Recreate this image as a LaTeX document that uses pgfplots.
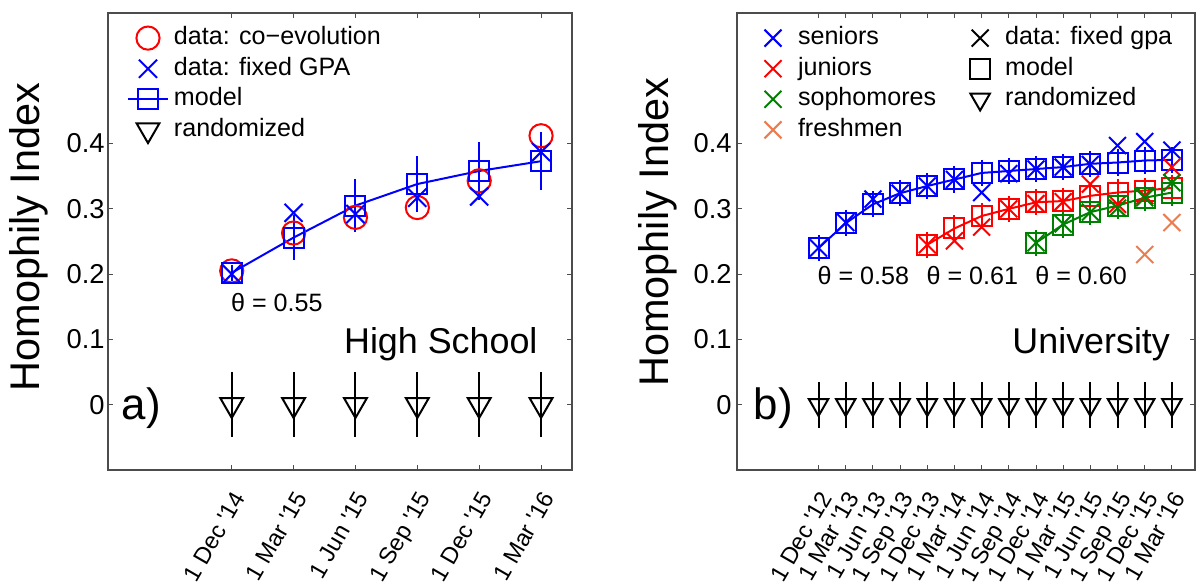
\documentclass[border=0pt]{standalone}
\usepackage{fontspec}
\setmainfont{Liberation Sans}
\usepackage{pgfplots}
\pgfplotsset{compat=1.18}
\definecolor{mred}{rgb}{1,0,0}
\definecolor{mblue}{rgb}{0,0,1}
\definecolor{mgreen}{rgb}{0,0.5,0}
\definecolor{morange}{RGB}{235,125,80}
\newcommand{\q}{\textquotesingle}
\pgfplotsset{
  myax/.style={
    scale only axis, anchor=south west,
    height=228.5bp, ymin=-0.1, ymax=0.6,
    ytick={0,0.1,0.2,0.3,0.4},
    /pgf/number format/assume math mode=true,
    axis line style={draw=black!70, line width=0.6bp},
    tick style={draw=black!70, line width=0.5bp},
    major tick length=2.5bp,
    tick align=inside,
    yticklabel style={font=\fontsize{13.7}{14}\selectfont, inner sep=1.5bp},
    xticklabel style={font=\fontsize{11.8}{12}\selectfont, rotate=60, anchor=north east,
      inner sep=0pt, outer xsep=8.7bp, outer ysep=5bp},
    ylabel={Homophily Index},
    ylabel style={anchor=south, inner sep=0pt, font=\fontsize{20.8}{21}\selectfont},
    legend image code/.code={\path[draw=none,fill=none] (0bp,0bp) -- (20bp,0bp);\draw[mark repeat=2,mark phase=2,##1] plot coordinates {(0bp,0bp) (10bp,0bp) (20bp,0bp)};},
    legend cell align=left,
    clip=false,
  },
}
\begin{document}
\begin{tikzpicture}
\useasboundingbox (0,0) rectangle (598.5bp,294bp);
% ---------------- left panel ----------------
\begin{axis}[myax, at={(54bp,59bp)}, width=232bp,
  xmin=-1, xmax=6.5, xtick={1,2,3,4,5,6},
  xticklabels={1 Dec \q14, 1 Mar \q15, 1 Jun \q15, 1 Sep \q15, 1 Dec \q15, 1 Mar \q16},
  ylabel style={at={(axis description cs:-0.129,0.51)}},
  legend style={at={(rel axis cs:0,1)}, anchor=north west, xshift=9.5bp, yshift=-6.3bp,
    draw=none, fill=none, inner sep=0pt, outer sep=0pt,
    font=\fontsize{12.6}{14}\selectfont, row sep=2.8bp, column sep=2.5bp,
    nodes={inner sep=0pt, text height=9.5bp, text depth=3bp}},
]
\addlegendimage{mred, only marks, mark=o, mark size=5.8bp, line width=1bp}
\addlegendentry{data: co−evolution}
\addlegendimage{mblue, only marks, mark=x, mark size=6.4bp, line width=1bp}
\addlegendentry{data: fixed GPA}
\addlegendimage{mblue, mark=square, mark size=5bp, line width=1bp}
\addlegendentry{model}
\addlegendimage{black, only marks, mark=triangle, mark size=6.6bp, mark options={rotate=180}, line width=1bp}
\addlegendentry{randomized}
\addplot[mred, only marks, mark=o, mark size=5.8bp, line width=1bp, forget plot]
  coordinates {(1,0.205)(2,0.263)(3,0.287)(4,0.302)(5,0.343)(6,0.412)};
\addplot[mblue, only marks, mark=x, mark size=6.4bp, line width=1bp, forget plot]
  coordinates {(1,0.200)(2,0.294)(3,0.292)(4,0.317)(5,0.319)(6,0.387)};
\addplot[mblue, mark=square, mark size=5bp, line width=1bp, forget plot,
  error bars/.cd, y dir=both, y explicit, error mark=none, error bar style={line width=1bp}]
  coordinates {(1,0.202) +- (0,0.012) (2,0.256) +- (0,0.035) (3,0.305) +- (0,0.040)
               (4,0.338) +- (0,0.043) (5,0.358) +- (0,0.045) (6,0.373) +- (0,0.044)};
\addplot[black, only marks, mark=triangle, mark size=6.6bp, mark options={rotate=180}, line width=1bp, forget plot,
  error bars/.cd, y dir=both, y explicit, error mark=none, error bar style={line width=1bp}]
  coordinates {(1,0) +- (0,0.05) (2,0) +- (0,0.05) (3,0) +- (0,0.05)
               (4,0) +- (0,0.05) (5,0) +- (0,0.05) (6,0) +- (0,0.05)};
\node[anchor=base, font=\fontsize{12.6}{13}\selectfont] at (axis cs:1.73,0.143) {θ = 0.55};
\node[anchor=base, font=\fontsize{18}{18}\selectfont] at (axis cs:4.38,0.079) {High School};
\node[anchor=base, font=\fontsize{22}{22}\selectfont] at (axis cs:-0.46,-0.023) {a)};
\end{axis}
% ---------------- right panel ----------------
\begin{axis}[myax, at={(368.5bp,59bp)}, width=229bp,
  xmin=-2, xmax=14.85, xtick={1,...,14},
  xticklabels={1 Dec \q12, 1 Mar \q13, 1 Jun \q13, 1 Sep \q13, 1 Dec \q13, 1 Mar \q14, 1 Jun \q14,
               1 Sep \q14, 1 Dec \q14, 1 Mar \q15, 1 Jun \q15, 1 Sep \q15, 1 Dec \q15, 1 Mar \q16},
  yticklabel style={inner sep=2.5bp},
  ylabel style={at={(axis description cs:-0.131,0.52)}},
  legend columns=2,
  legend style={at={(rel axis cs:0,1)}, anchor=north west, xshift=8bp, yshift=-6.3bp,
    draw=none, fill=none, inner sep=0pt, outer sep=0pt,
    font=\fontsize{12.6}{14}\selectfont, row sep=2.8bp, column sep=2.5bp,
    nodes={inner sep=0pt, text height=9.5bp, text depth=3bp},
    /tikz/column 2/.style={column sep=12bp}},
]
\addlegendimage{mblue, only marks, mark=x, mark size=6bp, line width=1bp}
\addlegendentry{seniors}
\addlegendimage{black, only marks, mark=x, mark size=6bp, line width=1bp}
\addlegendentry{data: fixed gpa}
\addlegendimage{mred, only marks, mark=x, mark size=6bp, line width=1bp}
\addlegendentry{juniors}
\addlegendimage{black, only marks, mark=square, mark size=5bp, line width=1bp}
\addlegendentry{model}
\addlegendimage{mgreen, only marks, mark=x, mark size=6bp, line width=1bp}
\addlegendentry{sophomores}
\addlegendimage{black, only marks, mark=triangle, mark size=5.6bp, mark options={rotate=180}, line width=1bp}
\addlegendentry{randomized}
\addlegendimage{morange, only marks, mark=x, mark size=6bp, line width=1bp}
\addlegendentry{freshmen}
\addlegendimage{empty legend}
\addlegendentry{}
% seniors
\addplot[mblue, mark=square, mark size=5bp, line width=1bp, forget plot,
  error bars/.cd, y dir=both, y explicit, error mark=none, error bar style={line width=1bp}]
  coordinates {(1,0.240) +- (0,0.02) (2,0.278) +- (0,0.02) (3,0.307) +- (0,0.02) (4,0.324) +- (0,0.02)
               (5,0.335) +- (0,0.02) (6,0.345) +- (0,0.02) (7,0.355) +- (0,0.02) (8,0.358) +- (0,0.02)
               (9,0.361) +- (0,0.02) (10,0.364) +- (0,0.02) (11,0.369) +- (0,0.02) (12,0.371) +- (0,0.02)
               (13,0.374) +- (0,0.02) (14,0.375) +- (0,0.02)};
\addplot[mblue, only marks, mark=x, mark size=6bp, line width=1bp, forget plot]
  coordinates {(1,0.240)(2,0.279)(3,0.315)(4,0.324)(5,0.335)(6,0.345)(7,0.325)
               (8,0.354)(9,0.361)(10,0.364)(11,0.368)(12,0.397)(13,0.403)(14,0.390)};
% juniors
\addplot[mred, mark=square, mark size=5bp, line width=1bp, forget plot,
  error bars/.cd, y dir=both, y explicit, error mark=none, error bar style={line width=1bp}]
  coordinates {(5,0.245) +- (0,0.02) (6,0.270) +- (0,0.02) (7,0.289) +- (0,0.02) (8,0.300) +- (0,0.02)
               (9,0.310) +- (0,0.02) (10,0.312) +- (0,0.02) (11,0.320) +- (0,0.02) (12,0.325) +- (0,0.02)
               (13,0.328) +- (0,0.02) (14,0.332) +- (0,0.02)};
\addplot[mred, only marks, mark=x, mark size=6bp, line width=1bp, forget plot]
  coordinates {(5,0.245)(6,0.251)(7,0.272)(8,0.300)(9,0.308)(10,0.311)(11,0.338)
               (12,0.307)(13,0.320)(14,0.364)};
% sophomores
\addplot[mgreen, mark=square, mark size=5bp, line width=1bp, forget plot,
  error bars/.cd, y dir=both, y explicit, error mark=none, error bar style={line width=1bp}]
  coordinates {(9,0.248) +- (0,0.02) (10,0.276) +- (0,0.02) (11,0.295) +- (0,0.02) (12,0.305) +- (0,0.02)
               (13,0.317) +- (0,0.02) (14,0.325) +- (0,0.02)};
\addplot[mgreen, only marks, mark=x, mark size=6bp, line width=1bp, forget plot]
  coordinates {(9,0.248)(10,0.277)(11,0.295)(12,0.301)(13,0.317)(14,0.340)};
% freshmen
\addplot[morange, only marks, mark=x, mark size=6bp, line width=1bp, forget plot]
  coordinates {(13,0.230)(14,0.279)};
% randomized
\addplot[black, only marks, mark=triangle, mark size=5.6bp, mark options={rotate=180}, line width=1bp, forget plot,
  error bars/.cd, y dir=both, y explicit, error mark=none, error bar style={line width=1bp}]
  coordinates {(1,0) +- (0,0.035) (2,0) +- (0,0.035) (3,0) +- (0,0.035) (4,0) +- (0,0.035)
               (5,0) +- (0,0.035) (6,0) +- (0,0.035) (7,0) +- (0,0.035) (8,0) +- (0,0.035)
               (9,0) +- (0,0.035) (10,0) +- (0,0.035) (11,0) +- (0,0.035) (12,0) +- (0,0.035)
               (13,0) +- (0,0.035) (14,0) +- (0,0.035)};
\node[anchor=base, font=\fontsize{12.6}{13}\selectfont] at (axis cs:2.65,0.184) {θ = 0.58};
\node[anchor=base, font=\fontsize{12.6}{13}\selectfont] at (axis cs:6.66,0.184) {θ = 0.61};
\node[anchor=base, font=\fontsize{12.6}{13}\selectfont] at (axis cs:10.66,0.184) {θ = 0.60};
\node[anchor=base, font=\fontsize{18}{18}\selectfont] at (axis cs:11.03,0.079) {University};
\node[anchor=base, font=\fontsize{22}{22}\selectfont] at (axis cs:-0.665,-0.023) {b)};
\end{axis}
\end{tikzpicture}
\end{document}
